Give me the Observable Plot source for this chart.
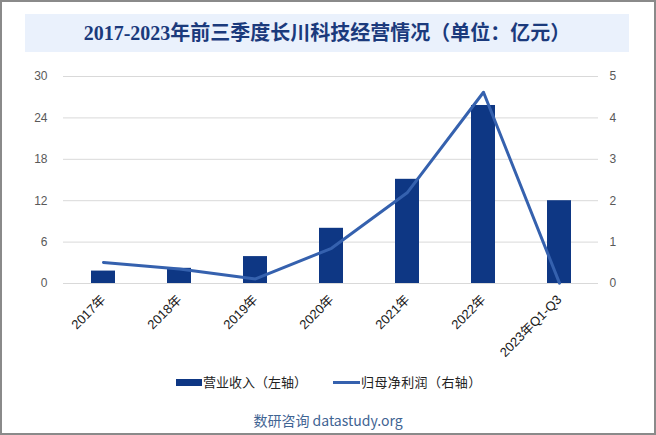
<!DOCTYPE html>
<html><head><meta charset="utf-8">
<script src="https://cdn.jsdelivr.net/npm/d3@7"></script>
<script src="https://cdn.jsdelivr.net/npm/@observablehq/plot@0.6"></script>
<style>
body{margin:0;background:#fff;}
#wrap{position:relative;width:656px;height:435px;overflow:hidden;font-family:"Liberation Sans","Noto Sans CJK SC",sans-serif;background:#fff;}
#frame{position:absolute;left:0;top:0;width:656px;height:435px;box-sizing:border-box;border:2px solid #8a8a8a;pointer-events:none;z-index:5;}
#titlebox{position:absolute;left:25px;top:14px;width:604px;height:38px;background:#EAF1FC;}
#title{position:absolute;left:25px;top:14px;width:604px;height:38px;line-height:38px;text-align:center;font-family:"Liberation Serif","Noto Sans CJK SC",serif;font-weight:bold;font-size:20px;color:#1B3A7C;}
#chart{position:absolute;left:0;top:0;}
.leg{position:absolute;top:373px;font-size:13px;color:#222;font-family:"Noto Sans CJK SC",sans-serif;line-height:18px;white-space:nowrap;}
.sw{position:absolute;}
#footer{position:absolute;left:0;width:656px;top:410px;text-align:center;font-size:14px;color:#3F6493;font-family:"Noto Sans CJK SC","Liberation Sans",sans-serif;line-height:20px;}
</style></head>
<body>
<div id="wrap">
  <div id="titlebox"></div>
  <div id="title">2017-2023年前三季度长川科技经营情况（单位：亿元）</div>
  <div id="chart"></div>
  <div class="sw" style="left:176px;top:379px;width:26px;height:7px;background:#0E3784;"></div>
  <div class="leg" style="left:203px;">营业收入（左轴）</div>
  <div class="sw" style="left:333px;top:381px;width:27px;height:3px;background:#3561AE;"></div>
  <div class="leg" style="left:361px;letter-spacing:0.4px;">归母净利润（右轴）</div>
  <div id="footer">数研咨询 datastudy.org</div>
  <div id="frame"></div>
</div>
<script>
const categories = ["2017年","2018年","2019年","2020年","2021年","2022年","2023年Q1-Q3"];
const revenue = [1.8, 2.2, 3.9, 8.0, 15.1, 25.8, 12.0];
const netProfit = [0.51, 0.35, 0.11, 0.85, 2.2, 4.62, 0.01];
const leftTicks = [0, 6, 12, 18, 24, 30];
const rightTicks = [0, 1, 2, 3, 4, 5];
const ratio = 30 / 5;

const data = categories.map((c, i) => ({cat: c, rev: revenue[i], np: netProfit[i]}));

const chart = Plot.plot({
  width: 656,
  height: 435,
  marginTop: 76,
  marginBottom: 152,
  marginLeft: 63,
  marginRight: 58,
  style: {background: "transparent", fontFamily: "'Liberation Sans','Noto Sans CJK SC',sans-serif", fontSize: "12px"},
  x: {domain: categories, paddingInner: 0.69, paddingOuter: 0.345, label: null},
  y: {domain: [0, 30], label: null},
  marks: [
    Plot.gridY(leftTicks, {stroke: "#D9D9D9", strokeOpacity: 1, strokeWidth: 1}),
    Plot.barY(data, {x: "cat", y: "rev", fill: "#0E3784"}),
    Plot.line(data, {x: "cat", y: d => d.np * ratio, stroke: "#3561AE", strokeWidth: 3, curve: "linear"}),
    Plot.axisY({ticks: leftTicks, anchor: "left", tickSize: 0, tickPadding: 16, fill: "#595959", fontSize: 12, label: null}),
    Plot.axisY({ticks: rightTicks.map(t => t * ratio), anchor: "right", tickSize: 0, tickPadding: 11, tickFormat: d => String(d / ratio), fill: "#595959", fontSize: 12, label: null}),
    Plot.axisX({tickSize: 0, tickRotate: -45, tickPadding: 14, fill: "#1a1a1a", fontSize: 13, label: null})
  ]
});
document.getElementById("chart").appendChild(chart);
</script>
</body></html>
